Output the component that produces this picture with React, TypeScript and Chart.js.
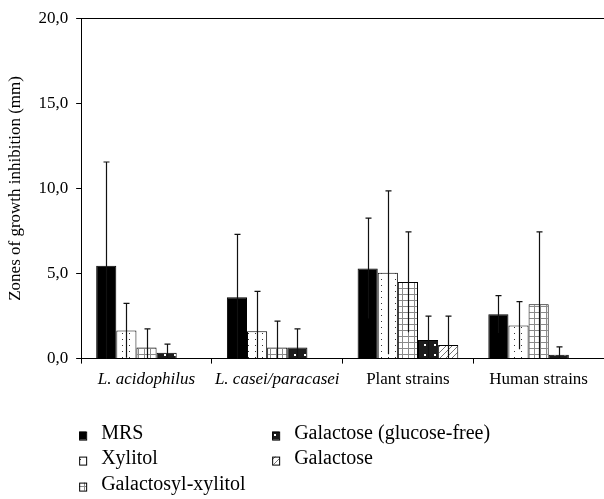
import React, { useEffect, useRef } from "react";
import { Chart, registerables } from "chart.js";

Chart.register(...registerables);

const categories = ["L. acidophilus", "L. casei/paracasei", "Plant strains", "Human strains"];
const seriesNames = ["MRS", "Xylitol", "Galactosyl-xylitol", "Galactose (glucose-free)", "Galactose"];

const mrs = [5.45, 3.6, 5.3, 2.6];
const mrsErr = [6.1, 3.7, 2.95, 1.1];
const xylitol = [1.65, 1.6, 5.05, 1.95];
const xylitolErr = [1.6, 2.35, 4.8, 1.4];
const galXyl = [0.65, 0.65, 4.5, 3.2];
const galXylErr = [1.1, 1.55, 2.95, 4.25];
const galGf = [0.35, 0.65, 1.1, 0.22];
const galGfErr = [0.5, 1.1, 1.4, 0.47];
const gal = [0, 0, 0.8, 0];
const galErr = [0, 0, 1.7, 0];

const yTicks = [0, 5, 10, 15, 20];

const FONT = "'Liberation Serif', 'Times New Roman', serif";

function makePattern(kind: string): CanvasPattern | string {
  const c = document.createElement("canvas");
  const g = c.getContext("2d")!;
  if (kind === "dots") {
    c.width = 7; c.height = 6;
    g.fillStyle = "#fff"; g.fillRect(0, 0, 7, 6);
    g.fillStyle = "#333"; g.fillRect(3, 3, 1, 1);
  } else if (kind === "grid") {
    c.width = 6; c.height = 6;
    g.fillStyle = "#fff"; g.fillRect(0, 0, 6, 6);
    g.fillStyle = "#8a8a8a"; g.fillRect(0, 0, 6, 1); g.fillRect(0, 0, 1, 6);
  } else if (kind === "darkdots") {
    c.width = 10; c.height = 10;
    g.fillStyle = "#1c1c1c"; g.fillRect(0, 0, 10, 10);
    g.fillStyle = "#fff"; g.fillRect(4, 4, 2, 2);
  } else if (kind === "hatch") {
    c.width = 6; c.height = 6;
    g.fillStyle = "#fff"; g.fillRect(0, 0, 6, 6);
    g.strokeStyle = "#777"; g.lineWidth = 1;
    g.beginPath(); g.moveTo(0, 6); g.lineTo(6, 0); g.moveTo(-1, 1); g.lineTo(1, -1); g.moveTo(5, 7); g.lineTo(7, 5); g.stroke();
  } else {
    return "#000";
  }
  return g.createPattern(c, "repeat")!;
}

const errorBarPlugin = {
  id: "errorBars",
  afterDatasetsDraw(chart: any) {
    const ctx = chart.ctx;
    const y = chart.scales.y;
    ctx.save();
    ctx.strokeStyle = "#111";
    ctx.lineWidth = 1.2;
    chart.data.datasets.forEach((ds: any, i: number) => {
      const meta = chart.getDatasetMeta(i);
      meta.data.forEach((bar: any, j: number) => {
        const v = ds.data[j];
        const e = ds.errors[j];
        if (!e) return;
        const x = Math.round(bar.x) + 0.5;
        const top = y.getPixelForValue(v + e);
        const bot = y.getPixelForValue(Math.max(0, v - e));
        ctx.beginPath();
        ctx.moveTo(x, bot);
        ctx.lineTo(x, top);
        ctx.moveTo(x - 3, top);
        ctx.lineTo(x + 3, top);
        ctx.stroke();
      });
    });
    ctx.restore();
  },
};

const legendPlugin = {
  id: "customLegend",
  afterDraw(chart: any) {
    const ctx = chart.ctx;
    const area = chart.chartArea;
    const col1 = area.left - 2;
    const col2 = area.left + 191;
    const rows = [area.bottom + 75, area.bottom + 100, area.bottom + 126];
    const pos = [
      [col1, rows[0]],
      [col1, rows[1]],
      [col1, rows[2]],
      [col2, rows[0]],
      [col2, rows[1]],
    ];
    ctx.save();
    ctx.font = `20px ${FONT}`;
    ctx.textBaseline = "middle";
    ctx.fillStyle = "#000";
    chart.data.datasets.forEach((ds: any, i: number) => {
      const [x, yy] = pos[i];
      ctx.fillStyle = ds.backgroundColor;
      ctx.fillRect(x, yy - 2, 7, 8);
      ctx.strokeStyle = "#000";
      ctx.lineWidth = 1;
      ctx.strokeRect(x + 0.5, yy - 1.5, 7, 8);
      ctx.fillStyle = "#000";
      ctx.fillText(ds.label, x + 22, yy);
    });
    ctx.restore();
  },
};

export default function App() {
  const ref = useRef<HTMLCanvasElement>(null);
  useEffect(() => {
    document.body.style.margin = "0";
    const kinds = ["solid", "dots", "grid", "darkdots", "hatch"];
    const values = [mrs, xylitol, galXyl, galGf, gal];
    const errs = [mrsErr, xylitolErr, galXylErr, galGfErr, galErr];
    const chart = new Chart(ref.current!, {
      type: "bar",
      data: {
        labels: categories,
        datasets: seriesNames.map((name, i) => ({
          label: name,
          data: values[i],
          errors: errs[i],
          backgroundColor: makePattern(kinds[i]),
          borderColor: "#000",
          borderWidth: 1,
          borderSkipped: "bottom",
          barPercentage: 1,
          categoryPercentage: 0.77,
        })) as any,
      },
      options: {
        animation: false,
        responsive: false,
        events: [],
        layout: { padding: { left: 5, top: 12, right: 0, bottom: 103 } },
        plugins: { legend: { display: false }, tooltip: { enabled: false } },
        scales: {
          x: {
            offset: true,
            grid: {
              display: true,
              drawOnChartArea: false,
              offset: true,
              tickLength: 5,
              tickColor: "#000",
            },
            border: { display: true, color: "#000", width: 1 },
            ticks: {
              color: "#000",
              padding: 6,
              maxRotation: 0,
              autoSkip: false,
              font: (c: any) => ({ family: FONT, size: 17, style: c.index < 2 ? "italic" : "normal" }),
            },
          },
          y: {
            min: 0,
            max: 20,
            afterBuildTicks: (axis: any) => {
              axis.ticks = yTicks.map((v) => ({ value: v }));
            },
            grid: {
              color: (c: any) => (c.tick && c.tick.value === 20 ? "#000" : "rgba(0,0,0,0)"),
              tickColor: "#000",
              tickLength: 5,
            },
            border: { display: true, color: "#000", width: 1 },
            ticks: {
              color: "#000",
              padding: 8,
              font: { family: FONT, size: 17 },
              callback: (v: any) => Number(v).toFixed(1).replace(".", ","),
            },
            title: {
              display: true,
              text: "Zones of growth inhibition (mm)",
              color: "#000",
              font: { family: FONT, size: 17 },
              padding: { top: 0, bottom: 5 },
            },
          },
        },
      },
      plugins: [errorBarPlugin, legendPlugin],
    });
    return () => chart.destroy();
  }, []);
  return <canvas ref={ref} width={604} height={499} />;
}
